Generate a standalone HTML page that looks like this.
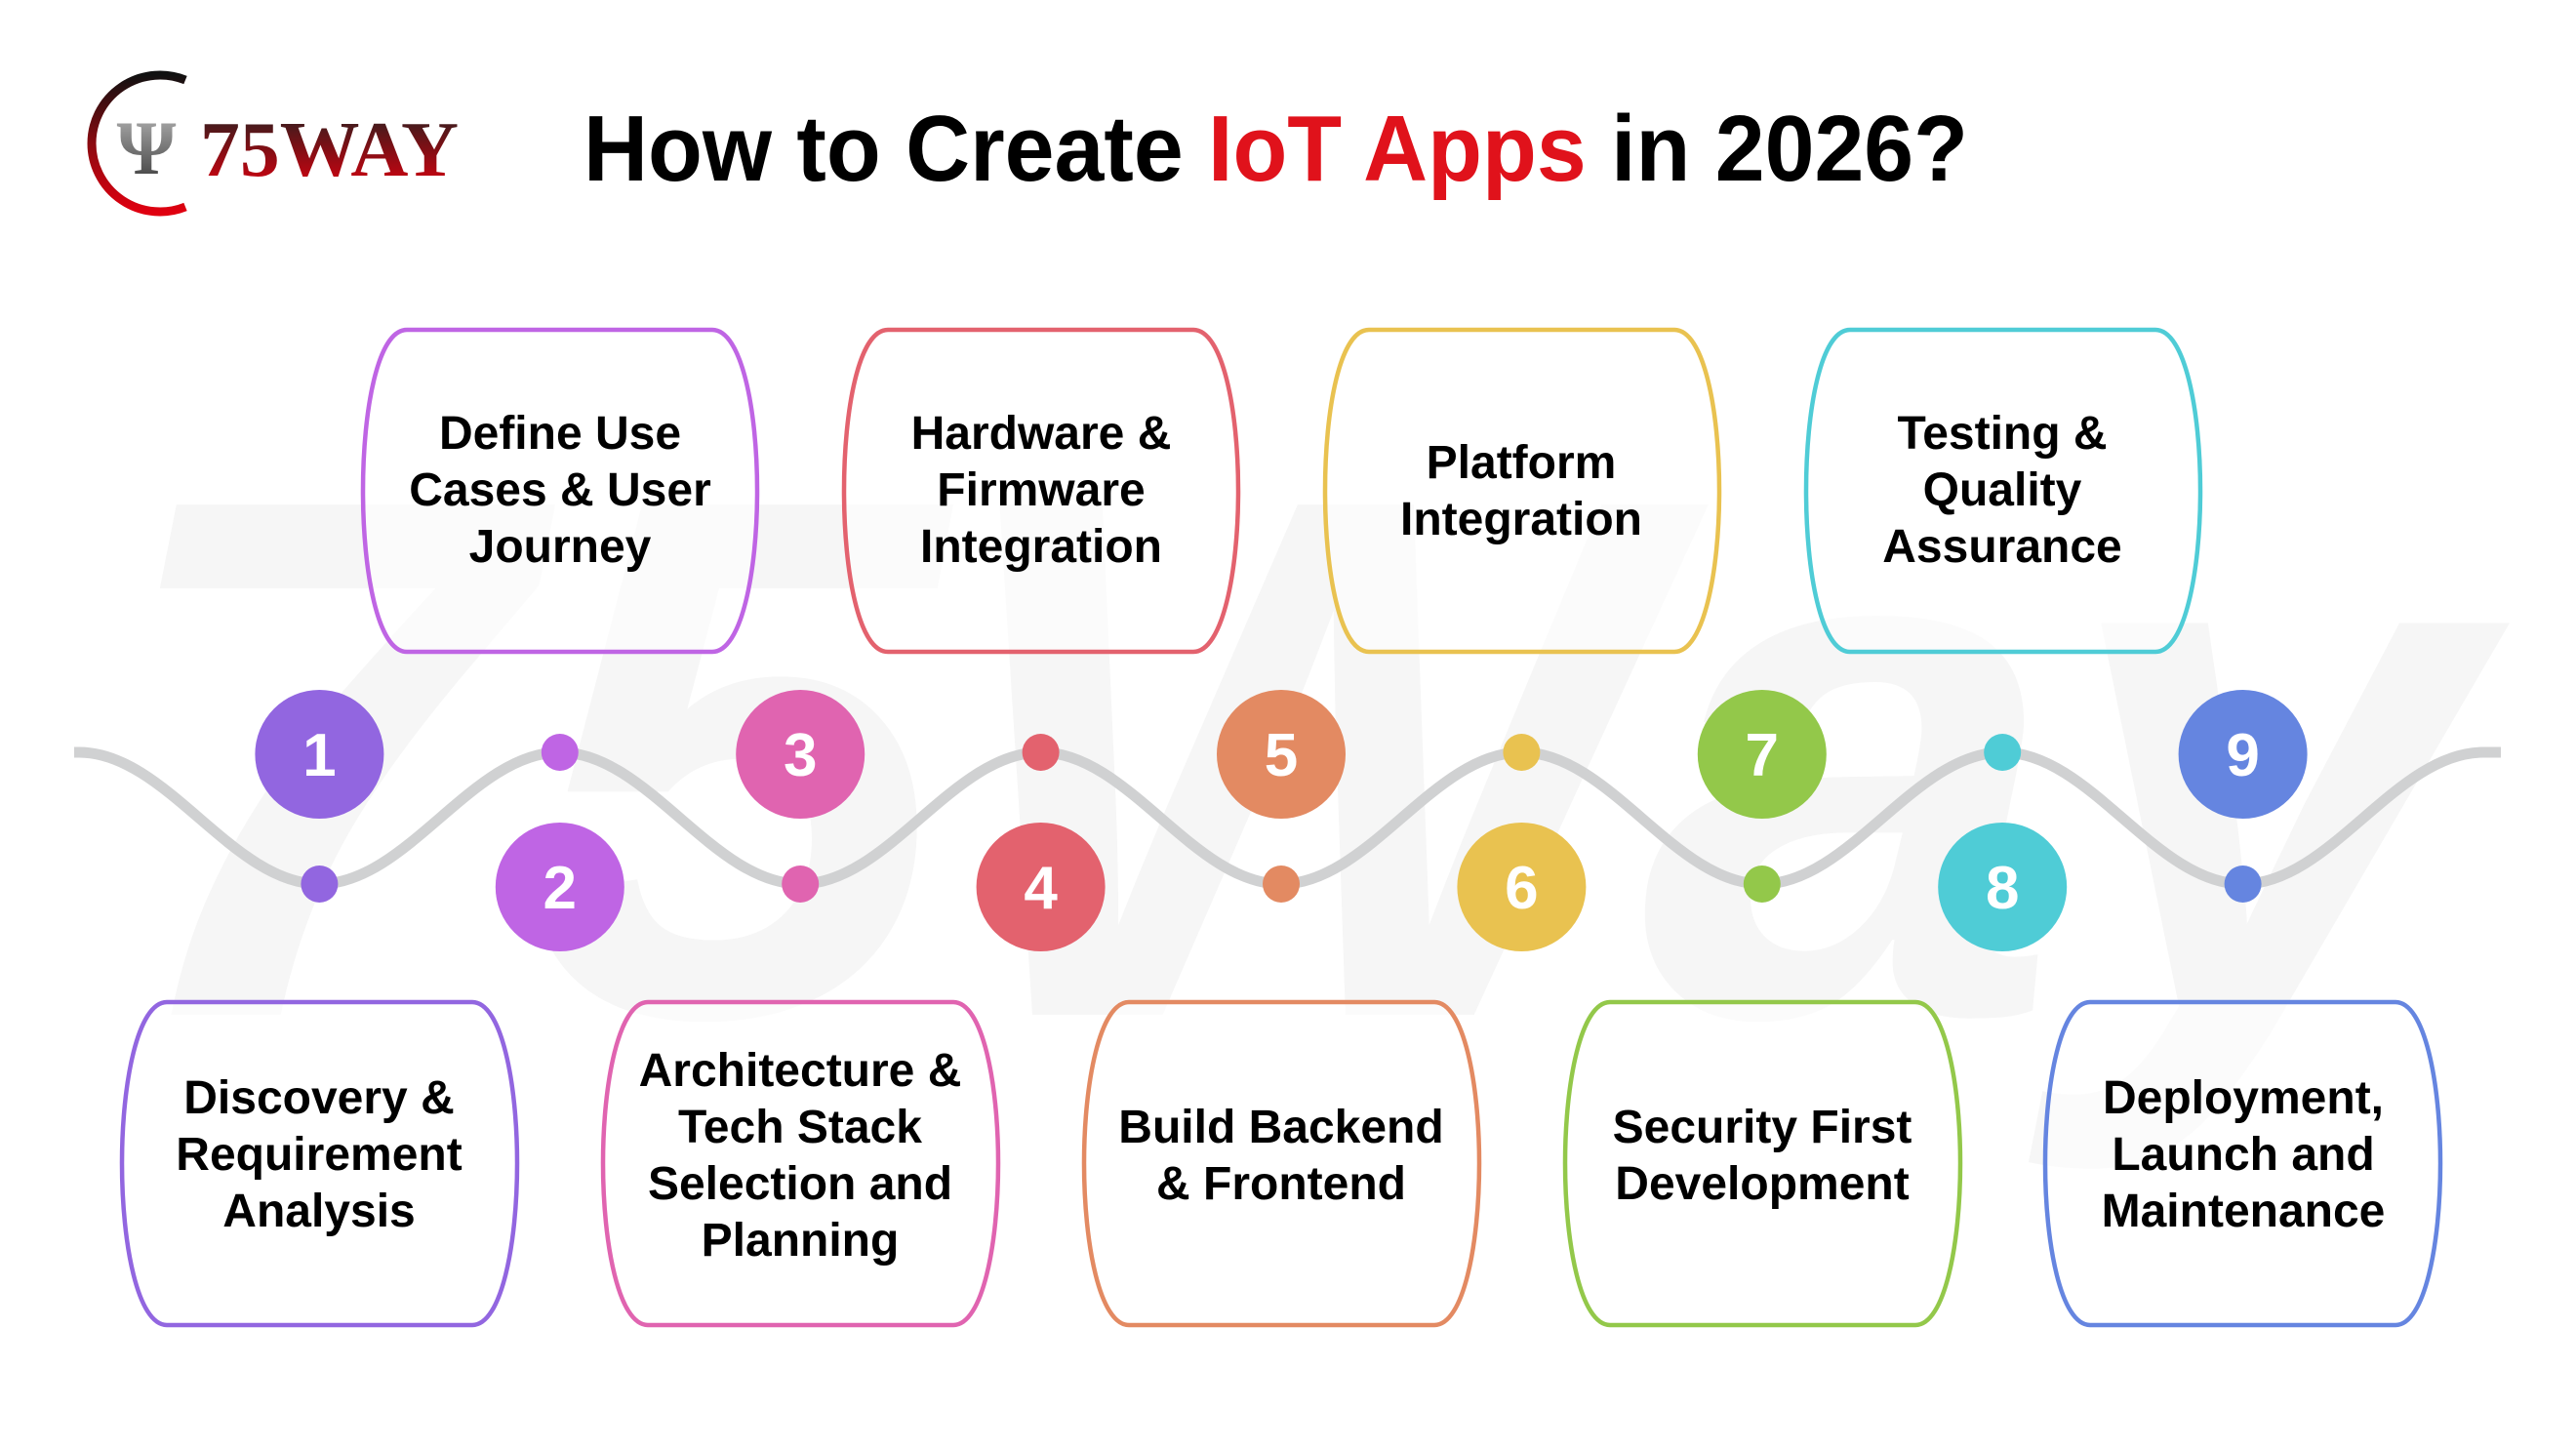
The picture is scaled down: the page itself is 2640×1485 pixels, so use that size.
<!DOCTYPE html>
<html><head><meta charset="utf-8"><style>
html,body{margin:0;padding:0;background:#fff;}
svg{display:block;}
.t{font-family:"Liberation Sans",sans-serif;font-weight:bold;font-size:48px;fill:#000;text-anchor:middle;}
.n{font-family:"Liberation Sans",sans-serif;font-weight:bold;font-size:62px;fill:#fff;text-anchor:middle;}
</style></head><body>
<svg width="2640" height="1485" viewBox="0 0 2640 1485" xmlns="http://www.w3.org/2000/svg">
<defs>
<linearGradient id="lg" x1="0" y1="0" x2="0" y2="1"><stop offset="0" stop-color="#222"/><stop offset="0.45" stop-color="#7a1015"/><stop offset="1" stop-color="#e00010"/></linearGradient>
<linearGradient id="arc" x1="0" y1="0" x2="0" y2="1"><stop offset="0" stop-color="#111"/><stop offset="0.5" stop-color="#8a0a10"/><stop offset="1" stop-color="#e00010"/></linearGradient>
<linearGradient id="gr" x1="0" y1="0" x2="0" y2="1"><stop offset="0" stop-color="#bbb"/><stop offset="1" stop-color="#333"/></linearGradient>
</defs>
<!-- watermark -->
<text x="110" y="1040" font-family="Liberation Sans, sans-serif" font-weight="bold" font-style="italic" font-size="760" fill="#f6f6f6" textLength="2430" lengthAdjust="spacingAndGlyphs">75Way</text>
<!-- logo -->
<path d="M190,82 A70,70 0 1 0 190,212" fill="none" stroke="url(#arc)" stroke-width="9"/>
<text x="150" y="178" font-family="Liberation Serif, serif" font-weight="bold" font-size="78" fill="url(#gr)" text-anchor="middle">Ψ</text>
<text x="205" y="180" font-family="Liberation Serif, serif" font-weight="bold" font-size="80" fill="url(#lg)" textLength="265" lengthAdjust="spacingAndGlyphs">75WAY</text>
<!-- title -->
<text x="598" y="185" font-family="Liberation Sans, sans-serif" font-weight="bold" font-size="96" fill="#000" textLength="1419" lengthAdjust="spacingAndGlyphs">How to Create <tspan fill="#e0121b">IoT Apps</tspan> in 2026?</text>
<!-- wave -->
<path d="M76,771 L81,771 C170.7,771 237.7,906 327.4,906 S484.1,771 573.8,771 S730.5,906 820.2,906 S976.9,771 1066.6,771 S1223.3,906 1313,906 S1469.7,771 1559.4,771 S1716.1,906 1805.8,906 S1962.5,771 2052.2,771 S2208.9,906 2298.6,906 S2455.3,771 2545,771 L2563,771" fill="none" stroke="#d0d1d2" stroke-width="11"/>
<!-- small dots -->
<g>
<circle cx="327.4" cy="906" r="19" fill="#9266e0"/>
<circle cx="573.8" cy="771" r="19" fill="#bf65e4"/>
<circle cx="820.2" cy="906" r="19" fill="#e064b0"/>
<circle cx="1066.6" cy="771" r="19" fill="#e3626e"/>
<circle cx="1313" cy="906" r="19" fill="#e38a62"/>
<circle cx="1559.4" cy="771" r="19" fill="#e9c250"/>
<circle cx="1805.8" cy="906" r="19" fill="#93c84a"/>
<circle cx="2052.2" cy="771" r="19" fill="#4fccd6"/>
<circle cx="2298.6" cy="906" r="19" fill="#6585e0"/>
</g>
<!-- big circles -->
<g>
<circle cx="327.4" cy="773" r="66" fill="#9266e0"/><text class="n" x="327.4" y="795">1</text>
<circle cx="573.8" cy="909" r="66" fill="#bf65e4"/><text class="n" x="573.8" y="931">2</text>
<circle cx="820.2" cy="773" r="66" fill="#e064b0"/><text class="n" x="820.2" y="795">3</text>
<circle cx="1066.6" cy="909" r="66" fill="#e3626e"/><text class="n" x="1066.6" y="931">4</text>
<circle cx="1313" cy="773" r="66" fill="#e38a62"/><text class="n" x="1313" y="795">5</text>
<circle cx="1559.4" cy="909" r="66" fill="#e9c250"/><text class="n" x="1559.4" y="931">6</text>
<circle cx="1805.8" cy="773" r="66" fill="#93c84a"/><text class="n" x="1805.8" y="795">7</text>
<circle cx="2052.2" cy="909" r="66" fill="#4fccd6"/><text class="n" x="2052.2" y="931">8</text>
<circle cx="2298.6" cy="773" r="66" fill="#6585e0"/><text class="n" x="2298.6" y="795">9</text>
</g>
<!-- boxes: top y 338-668, bottom 1027-1358, width 404 -->
<g fill="#fff" fill-opacity="0.6" stroke-width="4.5">
<path stroke="#bf65e4" d="M417,338 H730 C760,338 776,420 776,503 C776,586 760,668 730,668 H417 C387,668 372,586 372,503 C372,420 387,338 417,338 Z"/>
<path stroke="#e3626e" d="M910,338 H1223 C1253,338 1269,420 1269,503 C1269,586 1253,668 1223,668 H910 C880,668 865,586 865,503 C865,420 880,338 910,338 Z"/>
<path stroke="#e9c250" d="M1403,338 H1716 C1746,338 1762,420 1762,503 C1762,586 1746,668 1716,668 H1403 C1373,668 1358,586 1358,503 C1358,420 1373,338 1403,338 Z"/>
<path stroke="#4fccd6" d="M1896,338 H2209 C2239,338 2255,420 2255,503 C2255,586 2239,668 2209,668 H1896 C1866,668 1851,586 1851,503 C1851,420 1866,338 1896,338 Z"/>
<path stroke="#9266e0" d="M171,1027 H484 C514,1027 530,1110 530,1192 C530,1275 514,1358 484,1358 H171 C141,1358 125,1275 125,1192 C125,1110 141,1027 171,1027 Z"/>
<path stroke="#e064b0" d="M664,1027 H977 C1007,1027 1023,1110 1023,1192 C1023,1275 1007,1358 977,1358 H664 C634,1358 618,1275 618,1192 C618,1110 634,1027 664,1027 Z"/>
<path stroke="#e38a62" d="M1157,1027 H1470 C1500,1027 1516,1110 1516,1192 C1516,1275 1500,1358 1470,1358 H1157 C1127,1358 1111,1275 1111,1192 C1111,1110 1127,1027 1157,1027 Z"/>
<path stroke="#93c84a" d="M1650,1027 H1963 C1993,1027 2009,1110 2009,1192 C2009,1275 1993,1358 1963,1358 H1650 C1620,1358 1604,1275 1604,1192 C1604,1110 1620,1027 1650,1027 Z"/>
<path stroke="#6585e0" d="M2142,1027 H2455 C2485,1027 2501,1110 2501,1192 C2501,1275 2485,1358 2455,1358 H2142 C2112,1358 2096,1275 2096,1192 C2096,1110 2112,1027 2142,1027 Z"/>
</g>
<!-- texts -->
<text class="t" x="574" y="460">Define Use</text>
<text class="t" x="574" y="518">Cases &amp; User</text>
<text class="t" x="574" y="576">Journey</text>
<text class="t" x="1067" y="460">Hardware &amp;</text>
<text class="t" x="1067" y="518">Firmware</text>
<text class="t" x="1067" y="576">Integration</text>
<text class="t" x="1559" y="490">Platform</text>
<text class="t" x="1559" y="548">Integration</text>
<text class="t" x="2052" y="460">Testing &amp;</text>
<text class="t" x="2052" y="518">Quality</text>
<text class="t" x="2052" y="576">Assurance</text>
<text class="t" x="327" y="1141">Discovery &amp;</text>
<text class="t" x="327" y="1199">Requirement</text>
<text class="t" x="327" y="1257">Analysis</text>
<text class="t" x="820" y="1113">Architecture &amp;</text>
<text class="t" x="820" y="1171">Tech Stack</text>
<text class="t" x="820" y="1229">Selection and</text>
<text class="t" x="820" y="1287">Planning</text>
<text class="t" x="1313" y="1171">Build Backend</text>
<text class="t" x="1313" y="1229">&amp; Frontend</text>
<text class="t" x="1806" y="1171">Security First</text>
<text class="t" x="1806" y="1229">Development</text>
<text class="t" x="2299" y="1141">Deployment,</text>
<text class="t" x="2299" y="1199">Launch and</text>
<text class="t" x="2299" y="1257">Maintenance</text>
</svg>
</body></html>
